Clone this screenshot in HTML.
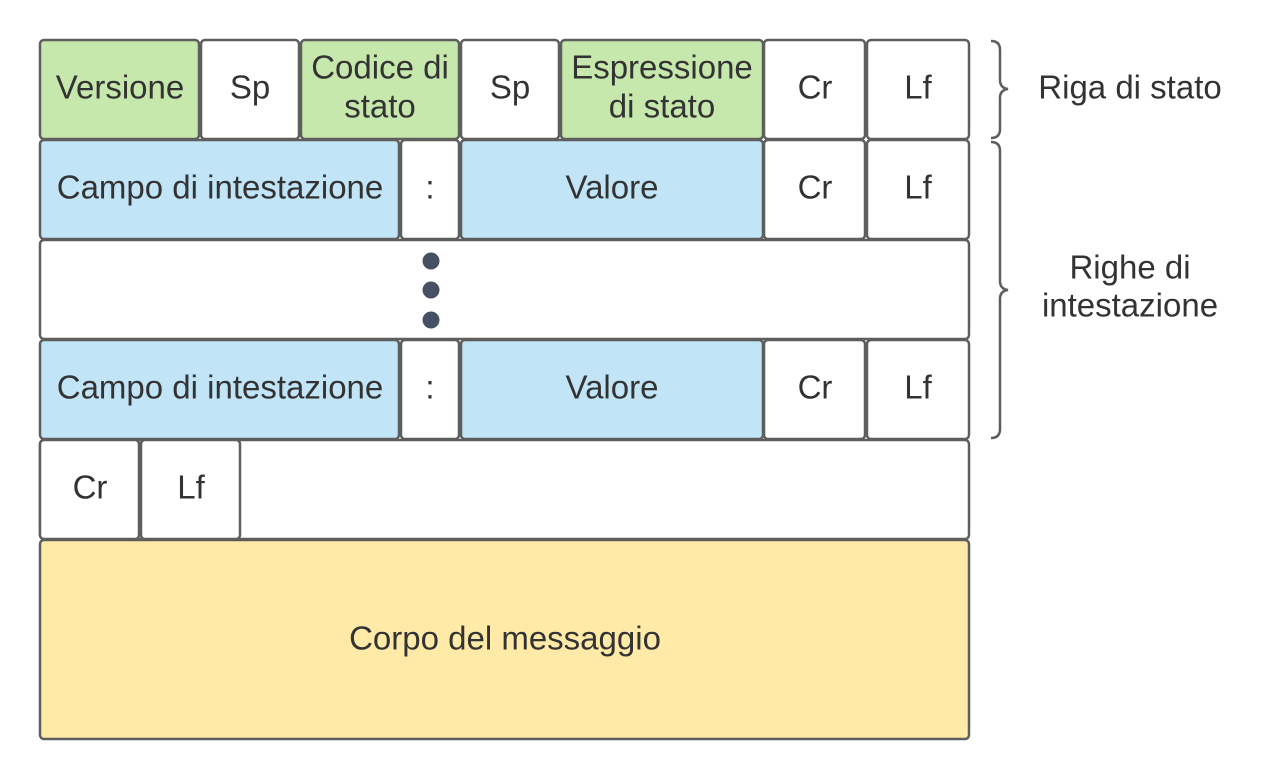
<!DOCTYPE html>
<html><head><meta charset="utf-8"><style>
html,body{margin:0;padding:0;background:#fff;width:1280px;height:780px;overflow:hidden}
text{font-family:"Liberation Sans",Arial,sans-serif;font-size:33px;fill:#333}
</style></head><body>
<svg width="1280" height="780" xmlns="http://www.w3.org/2000/svg">
<g stroke="#5e5e5e" stroke-width="2.5">
<rect x="40" y="40" width="159" height="99" rx="4" fill="#c7e8ac"/>
<rect x="201" y="40" width="98" height="99" rx="4" fill="#fff"/>
<rect x="301" y="40" width="158" height="99" rx="4" fill="#c7e8ac"/>
<rect x="461" y="40" width="98" height="99" rx="4" fill="#fff"/>
<rect x="561" y="40" width="202" height="99" rx="4" fill="#c7e8ac"/>
<rect x="764" y="40" width="101" height="99" rx="4" fill="#fff"/>
<rect x="867" y="40" width="102" height="99" rx="4" fill="#fff"/>
<rect x="40" y="140" width="359" height="99" rx="4" fill="#c1e4f7"/>
<rect x="401" y="140" width="58" height="99" rx="4" fill="#fff"/>
<rect x="461" y="140" width="302" height="99" rx="4" fill="#c1e4f7"/>
<rect x="764" y="140" width="101" height="99" rx="4" fill="#fff"/>
<rect x="867" y="140" width="102" height="99" rx="4" fill="#fff"/>
<rect x="40" y="240" width="929" height="99" rx="4" fill="#fff"/>
<rect x="40" y="340" width="359" height="99" rx="4" fill="#c1e4f7"/>
<rect x="401" y="340" width="58" height="99" rx="4" fill="#fff"/>
<rect x="461" y="340" width="302" height="99" rx="4" fill="#c1e4f7"/>
<rect x="764" y="340" width="101" height="99" rx="4" fill="#fff"/>
<rect x="867" y="340" width="102" height="99" rx="4" fill="#fff"/>
<rect x="40" y="440" width="929" height="99" rx="4" fill="#fff"/>
<rect x="40" y="440" width="99" height="99" rx="4" fill="#fff"/>
<rect x="141" y="440" width="99" height="99" rx="4" fill="#fff"/>
<rect x="40" y="540" width="929" height="199" rx="4" fill="#ffeaa7"/>
</g>
<g fill="#474f64">
<circle cx="431" cy="261" r="8.5"/><circle cx="431" cy="290" r="8.5"/><circle cx="431" cy="320" r="8.5"/>
</g>
<g fill="none" stroke="#5e5e5e" stroke-width="2.5">
<path d="M991 41 Q1000 41 1000 50 L1000 80 Q1000 88 1008 89 Q1000 90 1000 98 L1000 129 Q1000 138 991 138"/>
<path d="M991 142 Q1000 142 1000 151 L1000 281 Q1000 289 1008 290 Q1000 291 1000 299 L1000 429 Q1000 438 991 438"/>
</g>
<g text-anchor="middle" dominant-baseline="central">
<text x="120" y="87">Versione</text>
<text x="250" y="87">Sp</text>
<text x="380" y="67">Codice di</text>
<text x="380" y="106">stato</text>
<text x="510" y="87">Sp</text>
<text x="662" y="67">Espressione</text>
<text x="662" y="106">di stato</text>
<text x="815" y="87">Cr</text>
<text x="918" y="87">Lf</text>
<text x="220" y="187">Campo di intestazione</text>
<text x="430" y="187">:</text>
<text x="612" y="187">Valore</text>
<text x="815" y="187">Cr</text>
<text x="918" y="187">Lf</text>
<text x="220" y="387">Campo di intestazione</text>
<text x="430" y="387">:</text>
<text x="612" y="387">Valore</text>
<text x="815" y="387">Cr</text>
<text x="918" y="387">Lf</text>
<text x="90" y="487">Cr</text>
<text x="191" y="487">Lf</text>
<text x="505" y="638">Corpo del messaggio</text>
<text x="1130" y="87">Riga di stato</text>
<text x="1130" y="267">Righe di</text>
<text x="1130" y="305">intestazione</text>
</g>
</svg>
</body></html>
